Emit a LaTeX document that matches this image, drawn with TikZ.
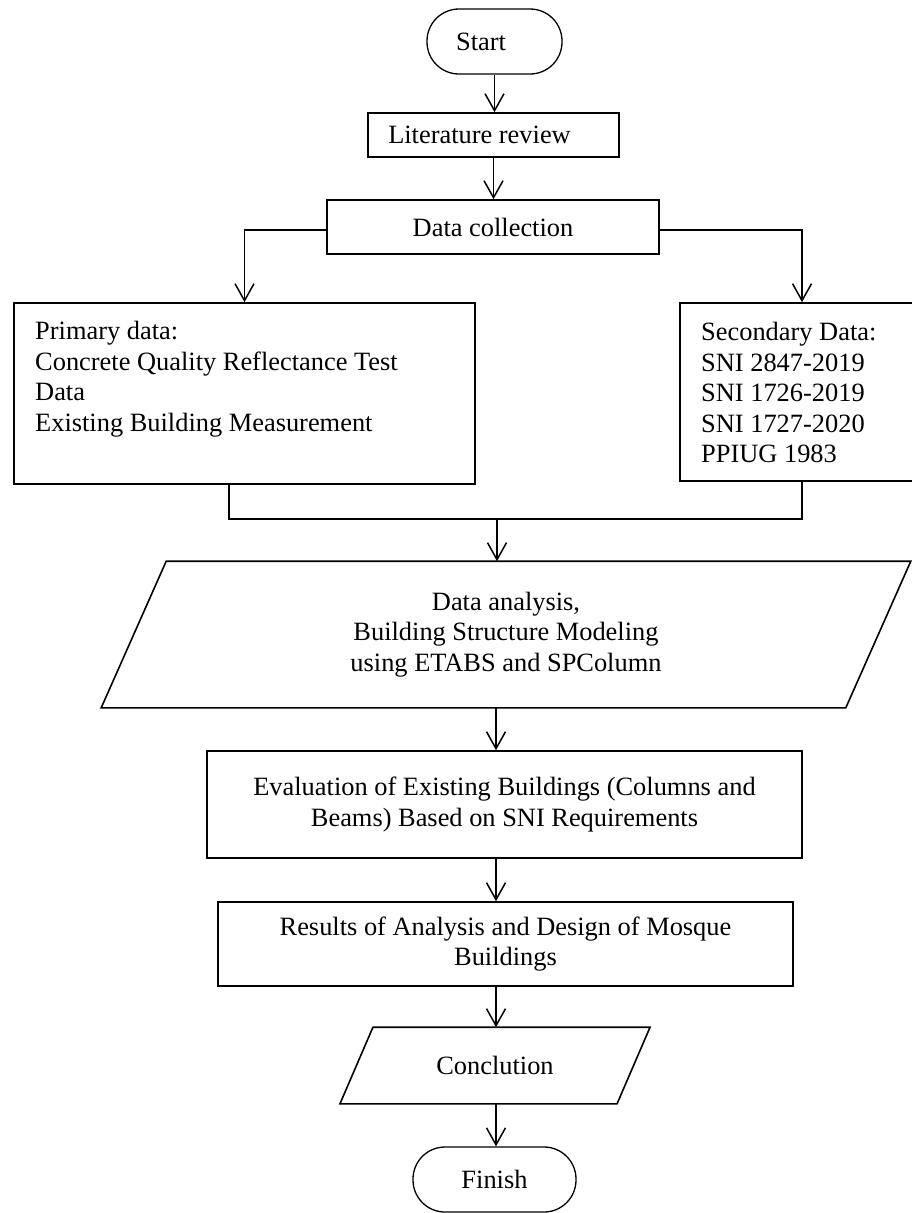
\documentclass[tikz,border=0pt]{standalone}
\usepackage{fontspec}
\setmainfont{Liberation Serif}
\usetikzlibrary{arrows.meta}
\newcommand\flowfont{\fontsize{26.4pt}{30.5pt}\selectfont}
\tikzset{
  boxst/.style={draw, line width=1.6pt, inner sep=0pt, align=center, font=\flowfont},
  termst/.style={boxst, line width=1.3pt, rounded corners=32pt},
  txtst/.style={inner sep=0pt, align=left, font=\flowfont},
  linest/.style={line width=1.6pt},
  arr/.style={line width=1.5pt, -{Straight Barb[length=17pt,width=19pt,line width=1.5pt]}}
}
\begin{document}
\begin{tikzpicture}[x=1pt,y=-1pt]
\useasboundingbox (0,0) rectangle (912,1213);
% nodes
\node[termst, minimum width=135pt, minimum height=65pt] (start) at (494.5,41.5) {Start\hspace{27pt}};
\node[boxst, minimum width=251pt, minimum height=44pt] (lit) at (493.5,135) {Literature review\hspace{28pt}};
\node[boxst, minimum width=332pt, minimum height=54pt] (dc) at (493,227) {Data collection};
\node[boxst, minimum width=461pt, minimum height=181pt] (prim) at (244.5,393.5) {};
\node[txtst, anchor=north west] (primtxt) at (35,321) {Primary data:\\Concrete Quality Reflectance Test\\Data\\Existing Building Measurement};
\node[boxst, minimum width=244pt, minimum height=178pt] (sec) at (802,392) {};
\node[txtst, anchor=north west] (sectxt) at (701,322) {Secondary Data:\\SNI 2847-2019\\SNI 1726-2019\\SNI 1727-2020\\PPIUG 1983};
\node[boxst, draw=none, minimum width=743pt, minimum height=145pt] (par) at (506,634.5) {Data analysis,\\Building Structure Modeling\\using ETABS and SPColumn};
\draw[linest] ([xshift=32.5pt]par.north west) -- ([xshift=32.5pt]par.north east) -- ([xshift=-32.5pt]par.south east) -- ([xshift=-32.5pt]par.south west) -- cycle;
\node[boxst, minimum width=595pt, minimum height=107pt] (eval) at (504.5,804.5) {Evaluation of Existing Buildings (Columns and\\Beams) Based on SNI Requirements};
\node[boxst, minimum width=575pt, minimum height=84pt] (res) at (505.5,944) {Results of Analysis and Design of Mosque\\Buildings};
\node[boxst, draw=none, minimum width=275.5pt, minimum height=75pt] (concl) at (495,1065.5) {Conclution};
\draw[linest] ([xshift=16.5pt]concl.north west) -- ([xshift=16.5pt]concl.north east) -- ([xshift=-16.5pt]concl.south east) -- ([xshift=-16.5pt]concl.south west) -- cycle;
\node[termst, minimum width=163pt, minimum height=65pt] (fin) at (494.5,1179.5) {Finish};
% connectors
\coordinate (jl) at (229,519);
\coordinate (jr) at (802,519);
\coordinate (jm) at (497,519);
\coordinate (ax) at (496,0);
\draw[arr] (start.south) -- (start.south |- lit.north);
\draw[arr] (lit.south) -- (lit.south |- dc.north);
\draw[arr] ([yshift=-3pt]dc.west) -| (prim.north);
\draw[arr] ([yshift=-3pt]dc.east) -| (sec.north);
\draw[linest] (prim.south -| jl) -- (jl) -- (jr) -- (sec.south -| jr);
\draw[arr] (jm) -- (jm |- par.north);
\draw[arr] (ax |- par.south) -- (ax |- eval.north);
\draw[arr] (ax |- eval.south) -- (ax |- res.north);
\draw[arr] (ax |- res.south) -- (ax |- concl.north);
\draw[arr] (ax |- concl.south) -- (ax |- fin.north);
\end{tikzpicture}
\end{document}
